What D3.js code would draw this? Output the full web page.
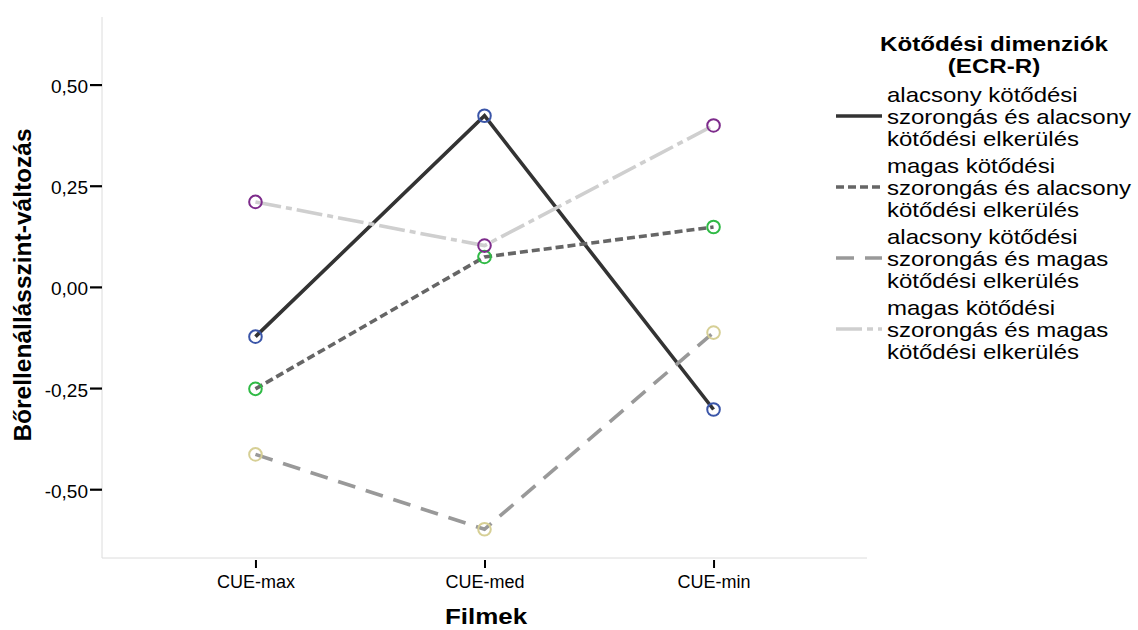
<!DOCTYPE html>
<html>
<head>
<meta charset="utf-8">
<script src="https://cdn.jsdelivr.net/npm/d3@7"></script>
<style>
  html, body { margin: 0; padding: 0; background: #fff; }
  svg { display: block; font-family: "Liberation Sans", Arial, sans-serif; }
</style>
</head>
<body>
<svg id="chart" width="1138" height="630"></svg>
<script>
// ---- data ----
const categories = ["CUE-max", "CUE-med", "CUE-min"];
const seriesNames = [
  ["alacsony kötődési", "szorongás és alacsony", "kötődési elkerülés"],
  ["magas kötődési", "szorongás és alacsony", "kötődési elkerülés"],
  ["alacsony kötődési", "szorongás és magas", "kötődési elkerülés"],
  ["magas kötődési", "szorongás és magas", "kötődési elkerülés"]
];
const lowLowValues   = [-0.123, 0.423, -0.303];
const highLowValues  = [-0.252, 0.074, 0.148];
const lowHighValues  = [-0.414, -0.599, -0.113];
const highHighValues = [0.210, 0.102, 0.399];
const yTickValues = [0.5, 0.25, 0, -0.25, -0.5];
const legendTitle = ["Kötődési dimenziók", "(ECR-R)"];
const xTitle = "Filmek";
const yTitle = "Bőrellenállásszint-változás";

// ---- styles ----
const seriesValues = [lowLowValues, highLowValues, lowHighValues, highHighValues];
const lineColors = ["#333333", "#666666", "#999999", "#cfcfcf"];
const dashes = [null, "8,4", "18,11", "26,5,6,5"];
const markerColors = ["#3a55a8", "#2fba45", "#d6cf95", "#7d2b8b"];

const svg = d3.select("#chart");
const plotLeft = 102, plotRight = 867, plotTop = 17, plotBottom = 558;

const x = d3.scalePoint().domain(categories).range([plotLeft, plotRight]).padding(0.67);
const y = d3.scaleLinear().domain([-0.67, 0.667]).range([plotBottom, plotTop]);

// frame lines (left + bottom)
svg.append("line").attr("x1", plotLeft).attr("x2", plotLeft).attr("y1", plotTop).attr("y2", plotBottom)
  .attr("stroke", "#dcdcdc").attr("stroke-width", 1);
svg.append("line").attr("x1", plotLeft).attr("x2", plotRight).attr("y1", plotBottom).attr("y2", plotBottom)
  .attr("stroke", "#dcdcdc").attr("stroke-width", 1);

// y axis
const fmt = v => d3.format(".2f")(v).replace("−", "-").replace(".", ",");
const yAxis = d3.axisLeft(y).tickValues(yTickValues).tickSize(12).tickPadding(2).tickFormat(fmt);
const gy = svg.append("g").attr("transform", `translate(${plotLeft},0)`).call(yAxis);
gy.select(".domain").remove();
gy.selectAll(".tick line").attr("stroke", "#000").attr("stroke-width", 2.2);
gy.selectAll(".tick text").attr("fill", "#000").style("font-size", "19px").attr("dy", "0.42em");

// x axis
const xAxis = d3.axisBottom(x).tickSize(8).tickPadding(4);
const gx = svg.append("g").attr("transform", `translate(0,${plotBottom + 2})`).call(xAxis);
gx.select(".domain").remove();
gx.selectAll(".tick line").attr("stroke", "#000").attr("stroke-width", 2);
gx.selectAll(".tick text").attr("fill", "#000").style("font-size", "18px").attr("dy", "0.9em");

// axis titles
svg.append("text")
  .attr("transform", "translate(486,624) scale(1.18,1)")
  .attr("text-anchor", "middle")
  .style("font-size", "22px").style("font-weight", "bold")
  .text(xTitle);
svg.append("text").attr("transform", "translate(31,285) rotate(-90)")
  .attr("text-anchor", "middle").style("font-size", "24.5px").style("font-weight", "bold")
  .text(yTitle);

// lines
const lineGen = d3.line().x((d, i) => x(categories[i])).y(d => y(d));
seriesValues.forEach((vals, s) => {
  svg.append("path").datum(vals).attr("d", lineGen)
    .attr("fill", "none").attr("stroke", lineColors[s]).attr("stroke-width", 3.6)
    .attr("stroke-dasharray", dashes[s]);
});
// markers
seriesValues.forEach((vals, s) => {
  svg.selectAll(null).data(vals).enter().append("circle")
    .attr("cx", (d, i) => x(categories[i])).attr("cy", d => y(d)).attr("r", 6.3)
    .attr("fill", "none").attr("stroke", markerColors[s]).attr("stroke-width", 2);
});

// legend
const lg = svg.append("g");
legendTitle.forEach((t, i) => {
  lg.append("text")
    .attr("transform", `translate(994,${51 + i * 22}) scale(1.15,1)`)
    .attr("text-anchor", "middle").style("font-size", "21px").style("font-weight", "bold")
    .text(t);
});
const legendY = d3.scaleLinear().domain([0, 3]).range([116, 329]);
seriesNames.forEach((lines, s) => {
  const cy = legendY(s);
  lg.append("line").attr("x1", 836).attr("x2", 882).attr("y1", cy).attr("y2", cy)
    .attr("stroke", lineColors[s]).attr("stroke-width", 3.6).attr("stroke-dasharray", dashes[s]);
  lines.forEach((t, j) => {
    lg.append("text")
      .attr("transform", `translate(887,${cy - 14 + j * 22}) scale(1.2,1)`)
      .style("font-size", "20px").attr("fill", "#000")
      .text(t);
  });
});
</script>
</body>
</html>
